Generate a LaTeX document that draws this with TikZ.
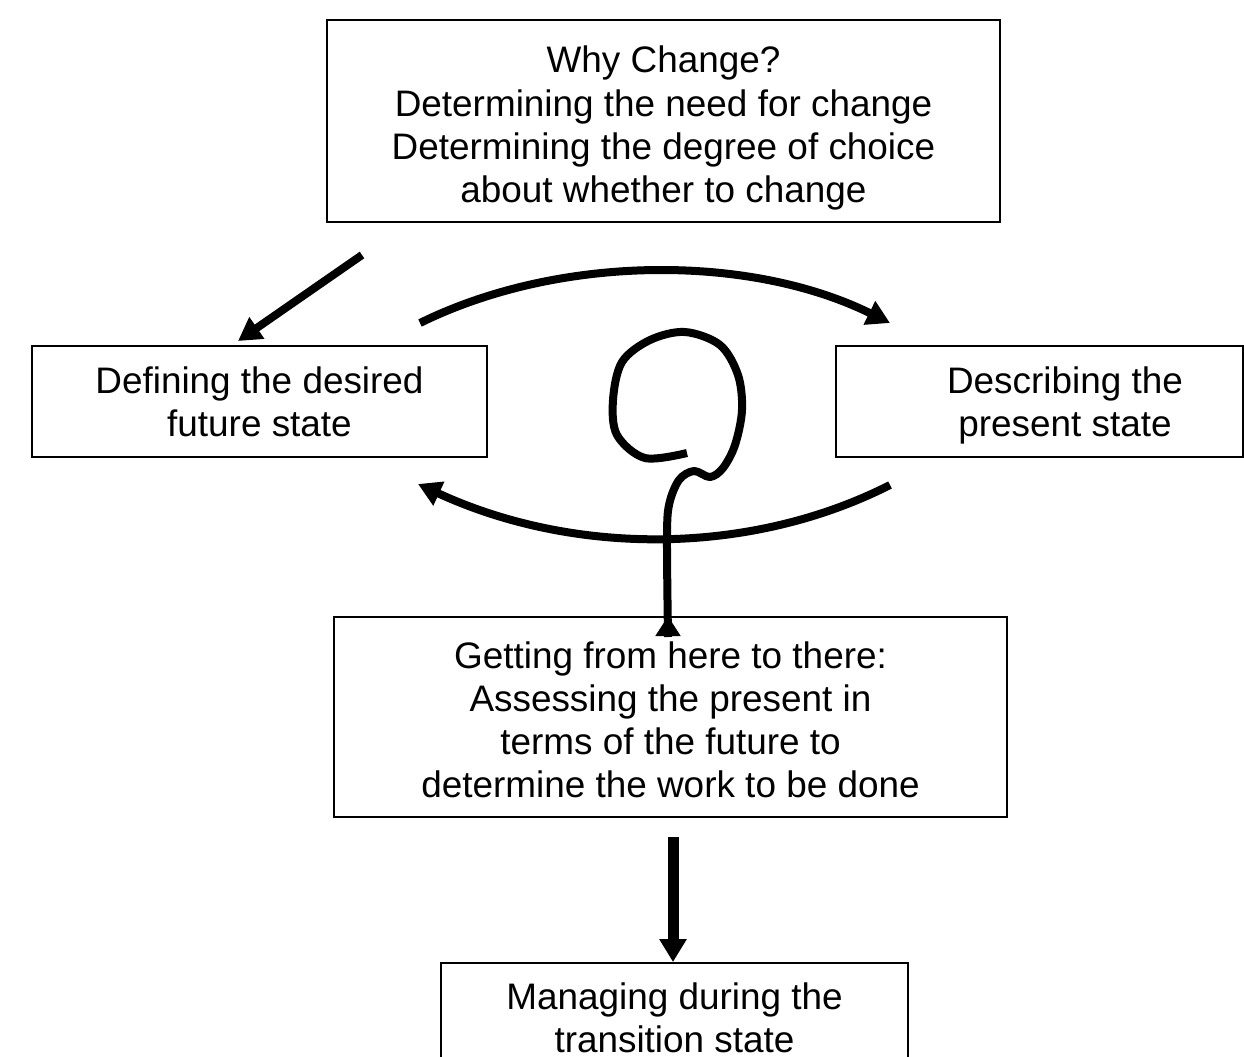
\documentclass[tikz,border=0pt]{standalone}
\usepackage{fontspec}
\setmainfont{Liberation Sans}
\usetikzlibrary{arrows.meta,calc}
\newcommand{\px}{0.02cm}

\begin{document}
\begin{tikzpicture}[x=\px,y=-\px,
	stage/.style={draw,line width=1.1pt,inner sep=0pt},
	words/.style={align=center,inner sep=0pt,font=\fontsize{21}{24.5}\selectfont},
	flow/.style={line width=8*\px,-{Triangle[length=23*\px,width=25*\px]}}]
	\useasboundingbox (0,0) rectangle (1244,1056);
	% the boxes
		\node[stage,minimum width=673*\px,minimum height=202*\px] (why) at (663.5,121) {};
		\node[stage,minimum width=455*\px,minimum height=111*\px] (future) at (259.5,401.5) {};
		\node[stage,minimum width=407*\px,minimum height=111*\px] (present) at (1039.5,401.5) {};
		\node[stage,minimum width=673*\px,minimum height=200*\px] (getting) at (670.5,717) {};
		\node[stage,minimum width=467*\px,minimum height=110*\px] (managing) at (674.5,1018) {};
	% and what is written in them
		\node[words] (whytext) at (663.5,128)
			{Why Change?\\Determining the need for change\\Determining the degree of choice\\about whether to change};
		\node[words] (futuretext) at (259.5,401.5) {Defining the desired\\future state};
		\node[words] (presenttext) at (1065,405) {Describing the\\present state};
		\node[words] (gettingtext) at (670.5,720)
			{Getting from here to there:\\Assessing the present in\\terms of the future to\\determine the work to be done};
		\node[words] (managingtext) at (674.5,1018) {Managing during the\\transition state};
	% arrows round the middle
		\coordinate (d0) at (362,255);
		\coordinate (d1) at (238,341);
		\coordinate (a0) at (420,323);
		\coordinate (a1) at (890,323);
		\coordinate (b0) at (890,485);
		\coordinate (b1) at (418,484);
			\draw[flow] (d0) -- (d1);
			\draw[flow] (a0) .. controls (560,254) and (750,254) .. (a1);
			\draw[flow] (b0) .. controls (750,556) and (574,556) .. (b1);
	% the tangle
		\coordinate (loopend) at (668,637);
			\draw[line width=8*\px,line join=round] plot[smooth,tension=0.55] coordinates {(687,453) (645,458) (617,435) (613,400) (622,362) (650,340) (685,332) (720,345) (738,375) (742,410) (735,445) (723,468) (710,477) (694,471) (679,480) (669,505) (667,540) (loopend)};
			\draw[line width=8*\px,-{Triangle[length=20*\px,width=24*\px]}] (loopend) -- (loopend |- getting.north);
	% down to the transition
		\coordinate (down) at (673,837);
			\draw[line width=11*\px,-{Triangle[length=23*\px,width=26*\px]}] (down) -- (down |- managing.north);
\end{tikzpicture}
\end{document}
